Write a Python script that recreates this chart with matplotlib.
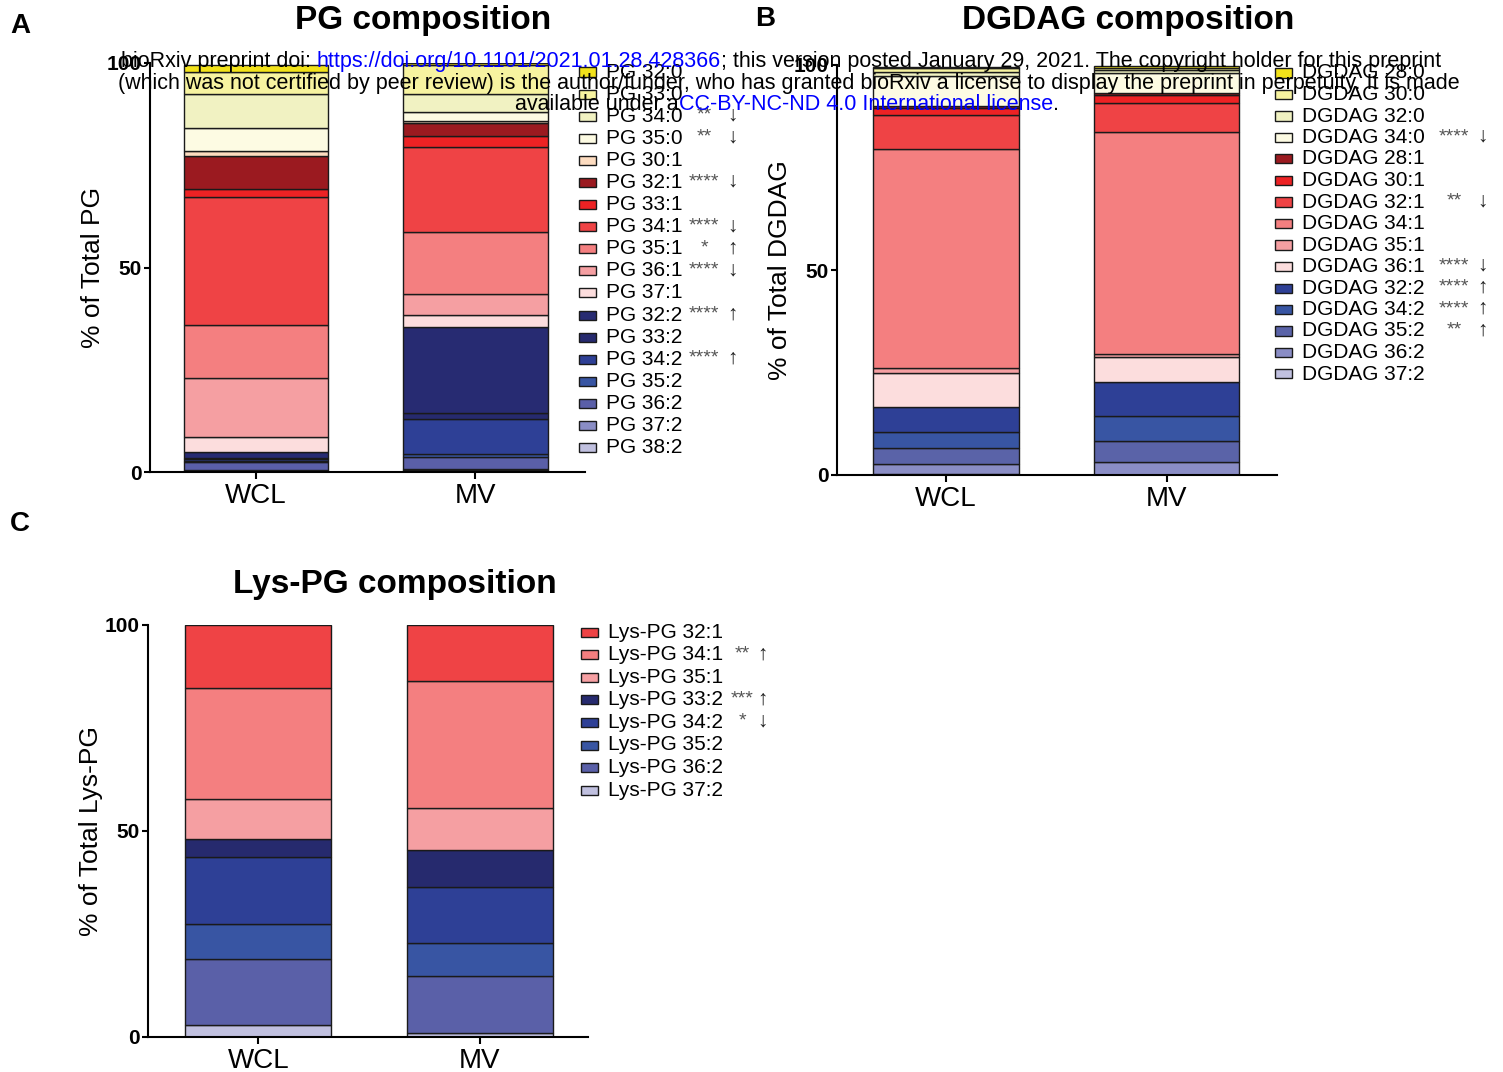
import numpy as np
import matplotlib
matplotlib.use("Agg")
import matplotlib.pyplot as plt
from matplotlib.patches import Rectangle

plt.rcParams['font.family'] = ['Liberation Sans', 'DejaVu Sans']

W, H = 1503, 1072
groups = ['WCL', 'MV']

# PG species, listed top of the stack to bottom (as in the legend)
pg_species = ['PG 32:0', 'PG 33:0', 'PG 34:0', 'PG 35:0', 'PG 30:1', 'PG 32:1', 'PG 33:1',
              'PG 34:1', 'PG 35:1', 'PG 36:1', 'PG 37:1', 'PG 32:2', 'PG 33:2', 'PG 34:2',
              'PG 35:2', 'PG 36:2', 'PG 37:2', 'PG 38:2']
pg_wcl = [1.6, 5.5, 8.2, 5.7, 1.1, 8.0, 2.0, 31.4, 12.8, 14.5, 3.8, 1.3, 0.4, 0.4, 0.3, 1.8, 0.3, 0.3]
pg_mv = [0.5, 6.9, 4.5, 2.2, 0.4, 3.3, 2.6, 20.8, 15.3, 5.0, 2.9, 21.0, 1.5, 8.7, 0.6, 2.9, 0.3, 0.5]
pg_sig = ['', '', '**', '**', '', '****', '', '****', '*', '****', '', '****', '', '****', '', '', '', '']
pg_dir = ['', '', '↓', '↓', '', '↓', '', '↓', '↑', '↓', '', '↑', '', '↑', '', '', '', '']
pg_colors = ['#f2e21a', '#f7f3a0', '#f1f2c2', '#fdfbe3', '#fddcc0', '#9b1a20', '#ed2224',
             '#ef4345', '#f47f80', '#f59fa2', '#fcdddd', '#272b72', '#262a6e', '#2e4096',
             '#3855a3', '#5a5fa8', '#8a8dc5', '#c0c0df']

dg_species = ['DGDAG 28:0', 'DGDAG 30:0', 'DGDAG 32:0', 'DGDAG 34:0', 'DGDAG 28:1', 'DGDAG 30:1',
              'DGDAG 32:1', 'DGDAG 34:1', 'DGDAG 35:1', 'DGDAG 36:1', 'DGDAG 32:2', 'DGDAG 34:2',
              'DGDAG 35:2', 'DGDAG 36:2', 'DGDAG 37:2']
dg_wcl = [0.3, 0.8, 1.0, 7.3, 0.5, 1.9, 8.1, 53.6, 1.0, 8.3, 6.2, 3.8, 4.1, 2.4, 0.2]
dg_mv = [0.5, 0.6, 0.6, 4.9, 0.6, 1.8, 7.1, 54.1, 0.8, 6.2, 8.3, 5.9, 5.3, 3.0, 0.1]
dg_sig = ['', '', '', '****', '', '', '**', '', '', '****', '****', '****', '**', '', '']
dg_dir = ['', '', '', '↓', '', '', '↓', '', '', '↓', '↑', '↑', '↑', '', '']
dg_colors = ['#f2e21a', '#f7f3a0', '#f1f2c2', '#fdfbe3', '#9b1a20', '#ed2224', '#ef4345',
             '#f47f80', '#f59fa2', '#fcdddd', '#2e4096', '#3855a3', '#5a63a8', '#8a8dc5', '#c0c0df']

lys_species = ['Lys-PG 32:1', 'Lys-PG 34:1', 'Lys-PG 35:1', 'Lys-PG 33:2', 'Lys-PG 34:2',
               'Lys-PG 35:2', 'Lys-PG 36:2', 'Lys-PG 37:2']
lys_wcl = [15.5, 26.9, 9.6, 4.4, 16.3, 8.5, 16.1, 2.8]
lys_mv = [13.7, 30.7, 10.4, 8.8, 13.6, 8.2, 13.7, 1.0]
lys_sig = ['', '**', '', '***', '*', '', '', '']
lys_dir = ['', '↑', '', '↑', '↓', '', '', '']
lys_colors = ['#ef4345', '#f47f80', '#f59fa2', '#262a6e', '#2e4096', '#3855a3', '#5a60a8', '#c0c0df']


def fx(x):
    return x / W


def fy(y):
    return 1 - y / H


fig = plt.figure(figsize=(W / 100, H / 100), dpi=100)


def panel(rect, species, wcl, mv, colors, ylabel, xlim, leg):
    left, top, right, bottom = rect
    ax = fig.add_axes([fx(left), fy(bottom), fx(right) - fx(left), fy(top) - fy(bottom)])
    x = np.arange(len(groups))
    base = np.zeros(len(groups))
    vals = np.array([wcl, mv]).T
    # stack from the bottom (last legend entry) upwards
    for i in range(len(species) - 1, -1, -1):
        ax.bar(x, vals[i], 0.66, bottom=base, color=colors[i], edgecolor='#1a1a1a', linewidth=1.0)
        base = base + vals[i]
    ax.set_xlim(*xlim)
    ax.set_ylim(0, 100)
    ax.set_yticks([0, 50, 100])
    ax.set_xticks(x)
    ax.set_xticklabels(groups, fontsize=20)
    for t in ax.get_yticklabels():
        t.set_fontweight('bold')
        t.set_fontsize(15)
    ax.tick_params(axis='y', length=4, width=1.5, pad=2)
    ax.tick_params(axis='x', length=5, width=1.5, pad=3)
    for s in ['top', 'right']:
        ax.spines[s].set_visible(False)
    for s in ['left', 'bottom']:
        ax.spines[s].set_linewidth(1.5)
    ax.set_ylabel(ylabel, fontsize=19, labelpad=1)

    # legend
    px, tx, y0, dy, sx, axx, sig, dirs = leg
    for i, name in enumerate(species):
        yc = y0 + i * dy
        fig.add_artist(Rectangle((fx(px), fy(yc + 4.5)), fx(17), 9 / H, transform=fig.transFigure,
                                 facecolor=colors[i], edgecolor='#1a1a1a', linewidth=1.0))
        fig.text(fx(tx), fy(yc), name, fontsize=15, va='center', ha='left')
        if sig[i]:
            fig.text(fx(sx), fy(yc - 1), sig[i], fontsize=14, va='center', ha='center', color='#555555')
        if dirs[i]:
            fig.text(fx(axx), fy(yc - 1), dirs[i], fontsize=15, va='center', ha='center', color='#222222')
    return ax


axA = panel((150, 63, 585, 472), pg_species, pg_wcl, pg_mv, pg_colors, '% of Total PG',
            (-0.484, 1.5), (579, 606, 72, 22.1, 704, 732, pg_sig, pg_dir))
axB = panel((837, 65, 1277, 475), dg_species, dg_wcl, dg_mv, dg_colors, '% of Total DGDAG',
            (-0.494, 1.5), (1275, 1302, 73, 21.5, 1454, 1482, dg_sig, dg_dir))
axC = panel((148, 625, 588, 1037), lys_species, lys_wcl, lys_mv, lys_colors, '% of Total Lys-PG',
            (-0.498, 1.49), (581, 608, 632, 22.6, 742, 763, lys_sig, lys_dir))

fig.text(fx(423), fy(21), 'PG composition', fontsize=24, fontweight='bold', ha='center', va='center')
fig.text(fx(1128), fy(21), 'DGDAG composition', fontsize=24, fontweight='bold', ha='center', va='center')
fig.text(fx(395), fy(584), 'Lys-PG composition', fontsize=24, fontweight='bold', ha='center', va='center')
fig.text(fx(20), fy(26), 'A', fontsize=20, fontweight='bold', ha='center', va='center')
fig.text(fx(765), fy(19), 'B', fontsize=20, fontweight='bold', ha='center', va='center')
fig.text(fx(20), fy(524), 'C', fontsize=20, fontweight='bold', ha='center', va='center')

# bioRxiv watermark lines
wm_lines = [
    ([('bioRxiv preprint doi: ', 'black'), ('https://doi.org/10.1101/2021.01.28.428366', '#0000ff'),
      ('; this version posted January 29, 2021. The copyright holder for this preprint', 'black')], 781, 62),
    ([('(which was not certified by peer review) is the author/funder, who has granted bioRxiv a license '
       'to display the preprint in perpetuity. It is made', 'black')], 789, 83),
    ([('available under a', 'black'), ('CC-BY-NC-ND 4.0 International license', '#0000ff'), ('.', 'black')], 787, 105),
]
renderer = fig.canvas.get_renderer()
for pieces, xc, yc in wm_lines:
    texts = []
    for s, c in pieces:
        texts.append(fig.text(0, fy(yc), s, fontsize=15.5, color=c, ha='left', va='center', zorder=10))
    widths = [t.get_window_extent(renderer).width for t in texts]
    xpos = xc - sum(widths) / 2
    for t, w in zip(texts, widths):
        t.set_x(fx(xpos))
        xpos += w

fig.savefig('out.png', dpi=100)
